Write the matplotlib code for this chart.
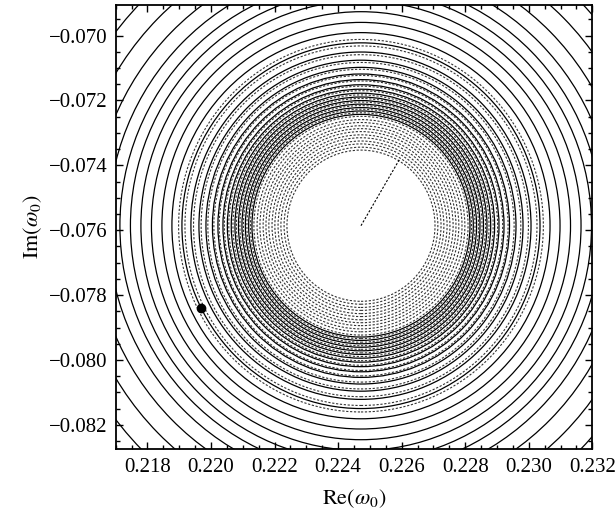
import matplotlib.pyplot as plt
from matplotlib.patches import Circle
from matplotlib.ticker import MultipleLocator

plt.rcParams['font.family'] = ['Liberation Serif', 'DejaVu Serif']
plt.rcParams['mathtext.fontset'] = 'stix'

# centre of the circles (root) and the starting point of the iteration
centre = (0.22472, -0.07586)
start_pt = (0.21967, -0.07841)
# end of the straight jump from the spiral to the root
jump_end = (0.22593, -0.07382)

# radii of the solid contour circles
solid_r = [0.003431, 0.003535, 0.003639, 0.003746, 0.003856, 0.003966,
           0.004083, 0.004206, 0.004344, 0.004502, 0.004675, 0.004879,
           0.005100, 0.005352, 0.005635, 0.005950, 0.006265, 0.006595,
           0.006926, 0.007256, 0.007587, 0.007964, 0.008437, 0.009035,
           0.009759, 0.010483]
# radii of the dotted turns of the iteration path
dotted_r = [0.00233, 0.00242, 0.00252, 0.00261, 0.00271, 0.00280, 0.00290,
            0.00299, 0.00308, 0.00318, 0.00327, 0.00337, 0.00348, 0.00359,
            0.00370, 0.00381, 0.00392, 0.00403, 0.00416, 0.00430, 0.00446,
            0.00463, 0.00482, 0.00503, 0.00527, 0.00554, 0.00574]

xticks = [0.218, 0.220, 0.222, 0.224, 0.226, 0.228, 0.230, 0.232]
yticks = [-0.082, -0.080, -0.078, -0.076, -0.074, -0.072, -0.070]

fig = plt.figure(figsize=(6.16, 5.24), dpi=100)
ax = fig.add_axes([0.1878, 0.1426, 0.7737, 0.8484])

for r in solid_r:
    ax.add_patch(Circle(centre, r, fill=False, color='black', lw=0.9))
for r in dotted_r:
    ax.add_patch(Circle(centre, r, fill=False, color='#333333', lw=0.8,
                        ls=(0, (2, 1.5))))

ax.plot([centre[0], jump_end[0]], [centre[1], jump_end[1]],
        color='black', lw=0.8, ls=(0, (2, 1.5)))
ax.plot(start_pt[0], start_pt[1], 'o', color='black', markersize=6)

ax.set_xlim(0.217, 0.232)
ax.set_ylim(-0.08275, -0.06905)
ax.set_xticks(xticks)
ax.set_yticks(yticks)
ax.set_xticklabels(['%.3f' % t for t in xticks])
ax.set_yticklabels(['\u2212%.3f' % -t for t in yticks])
ax.xaxis.set_minor_locator(MultipleLocator(0.0005))
ax.yaxis.set_minor_locator(MultipleLocator(0.0005))
ax.tick_params(which='both', direction='in', top=True, right=True,
               labelsize=15, width=1)
ax.tick_params(which='major', length=5, pad=6)
ax.tick_params(which='minor', length=3)
for s in ax.spines.values():
    s.set_linewidth(1.3)

ax.set_xlabel(r'$\mathrm{Re}(\omega_0)$', fontsize=16, labelpad=8)
ax.set_ylabel(r'$\mathrm{Im}(\omega_0)$', fontsize=16, labelpad=3)

fig.savefig('out.png', dpi=100)
